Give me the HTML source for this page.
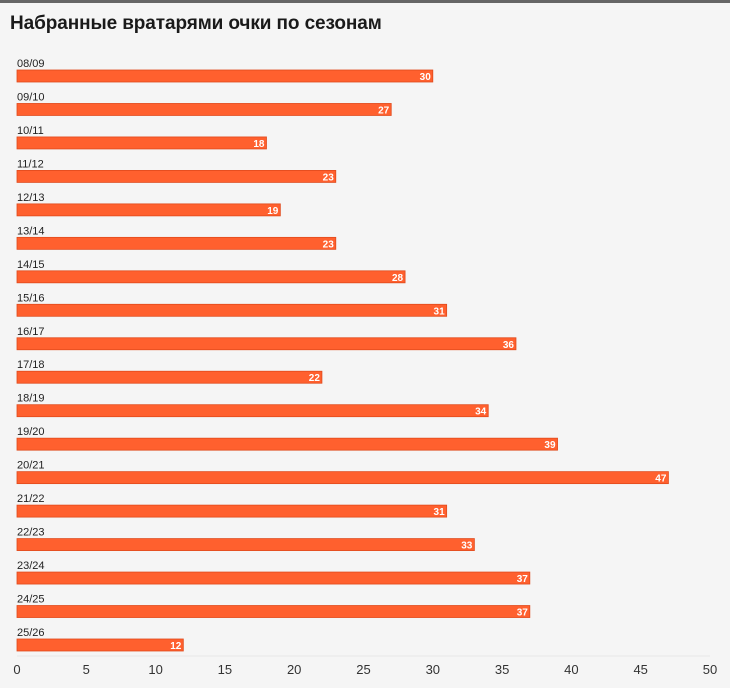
<!DOCTYPE html>
<html><head><meta charset="utf-8">
<style>
html,body{margin:0;padding:0;background:#f5f5f5;}
body{width:730px;height:688px;overflow:hidden;position:relative;font-family:"Liberation Sans","Noto Sans CJK SC",sans-serif;}
#topbar{position:absolute;left:0;top:0;width:730px;height:3px;background:#666;}
h1{position:absolute;left:10px;top:13px;margin:0;font-size:19px;font-weight:bold;color:#1a1a1a;letter-spacing:-0.1px;}
svg{position:absolute;left:0;top:0;}
</style></head>
<body>
<div id="topbar"></div>
<h1>Набранные вратарями очки по сезонам</h1>
<svg id="chart" width="730" height="688"></svg>
<script>
const seasons = ["08/09","09/10","10/11","11/12","12/13","13/14","14/15","15/16","16/17","17/18","18/19","19/20","20/21","21/22","22/23","23/24","24/25","25/26"];
const points = [30,27,18,23,19,23,28,31,36,22,34,39,47,31,33,37,37,12];
const ticks = [0,5,10,15,20,25,30,35,40,45,50];

const NS = "http://www.w3.org/2000/svg";
const svg = document.getElementById("chart");
const x0 = 17, x1 = 710, xMax = 50;
const xs = v => x0 + (v / xMax) * (x1 - x0);
const rowTop = i => 70 + i * 33.47;
const barH = 12;

function mk(tag, attrs){ const e = document.createElementNS(NS, tag); for (const k in attrs) e.setAttribute(k, attrs[k]); svg.appendChild(e); return e; }

seasons.forEach((s, i) => {
  const y = rowTop(i);
  const lab = mk("text", {x: x0, y: y - 3, "font-size": 11, fill: "#222"});
  
  
  lab.textContent = s;
  const r = mk("rect", {x: x0, y: y, width: xs(points[i]) - x0, height: barH, fill: "#ff602e", stroke: "#e04a1c", "stroke-width": 0.8});
  
  
  const v = mk("text", {x: xs(points[i]) - 2, y: y + 10, "font-size": 10, "font-weight": "bold", fill: "#fff", "text-anchor": "end"});
  
  
  v.textContent = points[i];
});

const ax = mk("line", {x1: x0, x2: x1, y1: 656, y2: 656, stroke: "#e8e8e8", "stroke-width": 1});


ticks.forEach(t => {
  const tl = mk("text", {x: xs(t), y: 674, "font-size": 13, fill: "#333", "text-anchor": "middle"});
  
  
  tl.textContent = t;
});
</script>
</body></html>
